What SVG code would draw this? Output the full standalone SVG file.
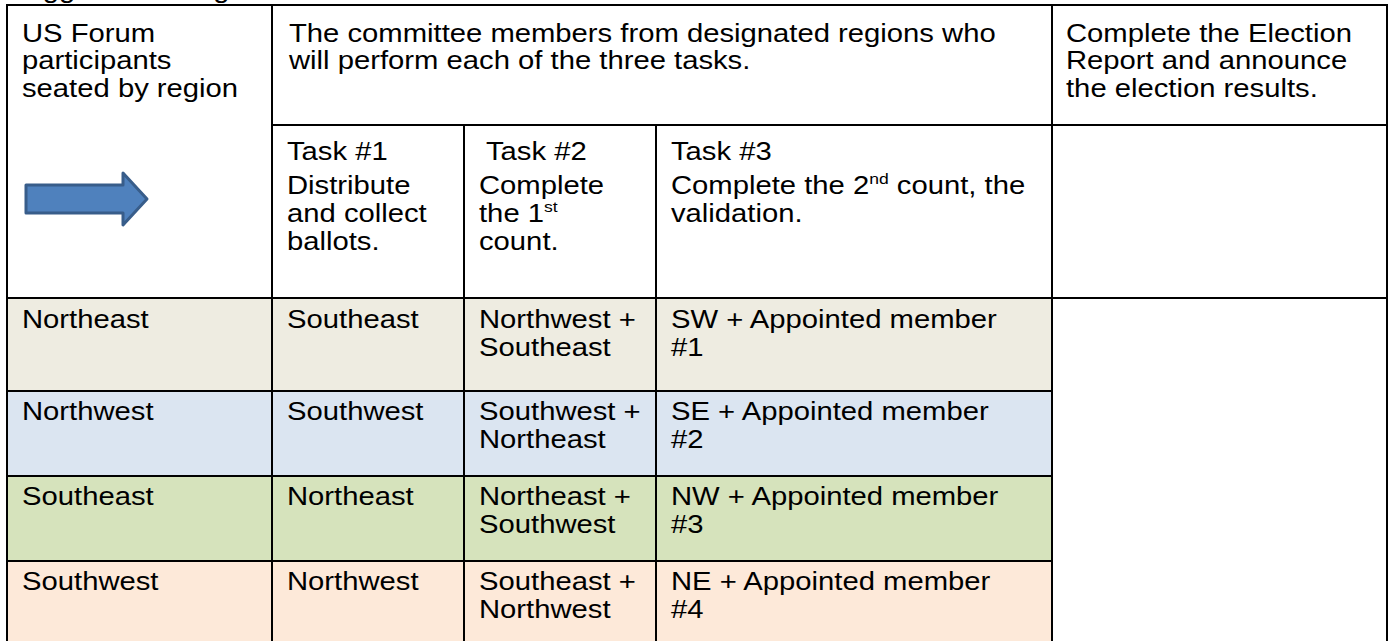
<svg xmlns="http://www.w3.org/2000/svg" width="1388" height="641" viewBox="0 0 1388 641">
  <style>
    .t { font-family: "Liberation Sans", Arial, sans-serif; font-size: 25px; fill: #000; }
    .grid { stroke: #000; stroke-width: 2; fill: none; }
    .sup { font-size: 15px; }
  </style>
  <rect width="1388" height="641" fill="#fff"/>
  <!-- cut-off caption at top -->
  <text class="t" transform="translate(7 -2) scale(1.17 1)">Suggested Design</text>

  <!-- row backgrounds -->
  <g id="row-backgrounds">
    <rect x="7" y="298" width="1045" height="93" fill="#EEECE1"/>
    <rect x="7" y="391" width="1045" height="85" fill="#DBE5F1"/>
    <rect x="7" y="476" width="1045" height="85" fill="#D6E3BC"/>
    <rect x="7" y="561" width="1045" height="90" fill="#FDE9D9"/>
  </g>

  <!-- grid lines -->
  <g id="grid" class="grid">
    <line x1="6" y1="5" x2="1388" y2="5"/>
    <line x1="7" y1="4" x2="7" y2="641"/>
    <line x1="1387" y1="4" x2="1387" y2="641"/>
    <line x1="272" y1="5" x2="272" y2="641"/>
    <line x1="1052" y1="5" x2="1052" y2="641"/>
    <line x1="464" y1="125" x2="464" y2="641"/>
    <line x1="656" y1="125" x2="656" y2="641"/>
    <line x1="272" y1="125" x2="1387" y2="125"/>
    <line x1="7" y1="298" x2="1387" y2="298"/>
    <line x1="7" y1="391" x2="1052" y2="391"/>
    <line x1="7" y1="476" x2="1052" y2="476"/>
    <line x1="7" y1="561" x2="1052" y2="561"/>
  </g>

  <!-- header -->
  <g id="header-regions">
    <text class="t" transform="translate(22 42) scale(1.17 1)"><tspan x="0" y="0">US Forum</tspan><tspan x="0" y="27.5">participants</tspan><tspan x="0" y="55">seated by region</tspan></text>
    <path id="arrow" d="M26 185 L123 185 L123 173 L147 199 L123 225 L123 213 L26 213 Z" fill="#4F81BD" stroke="#385D8A" stroke-width="3" stroke-linejoin="round"/>
  </g>
  <g id="header-committee">
    <text class="t" transform="translate(289 42) scale(1.17 1)"><tspan x="0" y="0">The committee members from designated regions who</tspan><tspan x="0" y="27.5">will perform each of the three tasks.</tspan></text>
  </g>
  <g id="header-report">
    <text class="t" transform="translate(1066 42) scale(1.17 1)"><tspan x="0" y="0">Complete the Election</tspan><tspan x="0" y="27.5">Report and announce</tspan><tspan x="0" y="55">the election results.</tspan></text>
  </g>
  <g id="task1">
    <text class="t" transform="translate(287 160) scale(1.17 1)">Task #1</text>
    <text class="t" transform="translate(287 194) scale(1.17 1)"><tspan x="0" y="0">Distribute</tspan><tspan x="0" y="28">and collect</tspan><tspan x="0" y="56">ballots.</tspan></text>
  </g>
  <g id="task2">
    <text class="t" transform="translate(486 160) scale(1.17 1)">Task #2</text>
    <text class="t" transform="translate(479 194) scale(1.17 1)"><tspan x="0" y="0">Complete</tspan><tspan x="0" y="28">the 1</tspan><tspan class="sup" dy="-10">st</tspan><tspan x="0" y="56">count.</tspan></text>
  </g>
  <g id="task3">
    <text class="t" transform="translate(671 160) scale(1.17 1)">Task #3</text>
    <text class="t" transform="translate(671 194) scale(1.17 1)"><tspan x="0" y="0">Complete the 2</tspan><tspan class="sup" dy="-10">nd</tspan><tspan dy="10"> count, the</tspan><tspan x="0" y="28">validation.</tspan></text>
  </g>

  <!-- body rows -->
  <g id="row-northeast">
    <text class="t" transform="translate(22 328) scale(1.17 1)">Northeast</text>
    <text class="t" transform="translate(287 328) scale(1.17 1)">Southeast</text>
    <text class="t" transform="translate(479 328) scale(1.17 1)"><tspan x="0" y="0">Northwest +</tspan><tspan x="0" y="28">Southeast</tspan></text>
    <text class="t" transform="translate(671 328) scale(1.17 1)"><tspan x="0" y="0">SW + Appointed member</tspan><tspan x="0" y="28">#1</tspan></text>
  </g>
  <g id="row-northwest">
    <text class="t" transform="translate(22 420) scale(1.17 1)">Northwest</text>
    <text class="t" transform="translate(287 420) scale(1.17 1)">Southwest</text>
    <text class="t" transform="translate(479 420) scale(1.17 1)"><tspan x="0" y="0">Southwest +</tspan><tspan x="0" y="28">Northeast</tspan></text>
    <text class="t" transform="translate(671 420) scale(1.17 1)"><tspan x="0" y="0">SE + Appointed member</tspan><tspan x="0" y="28">#2</tspan></text>
  </g>
  <g id="row-southeast">
    <text class="t" transform="translate(22 505) scale(1.17 1)">Southeast</text>
    <text class="t" transform="translate(287 505) scale(1.17 1)">Northeast</text>
    <text class="t" transform="translate(479 505) scale(1.17 1)"><tspan x="0" y="0">Northeast +</tspan><tspan x="0" y="28">Southwest</tspan></text>
    <text class="t" transform="translate(671 505) scale(1.17 1)"><tspan x="0" y="0">NW + Appointed member</tspan><tspan x="0" y="28">#3</tspan></text>
  </g>
  <g id="row-southwest">
    <text class="t" transform="translate(22 590) scale(1.17 1)">Southwest</text>
    <text class="t" transform="translate(287 590) scale(1.17 1)">Northwest</text>
    <text class="t" transform="translate(479 590) scale(1.17 1)"><tspan x="0" y="0">Southeast +</tspan><tspan x="0" y="28">Northwest</tspan></text>
    <text class="t" transform="translate(671 590) scale(1.17 1)"><tspan x="0" y="0">NE + Appointed member</tspan><tspan x="0" y="28">#4</tspan></text>
  </g>
</svg>
